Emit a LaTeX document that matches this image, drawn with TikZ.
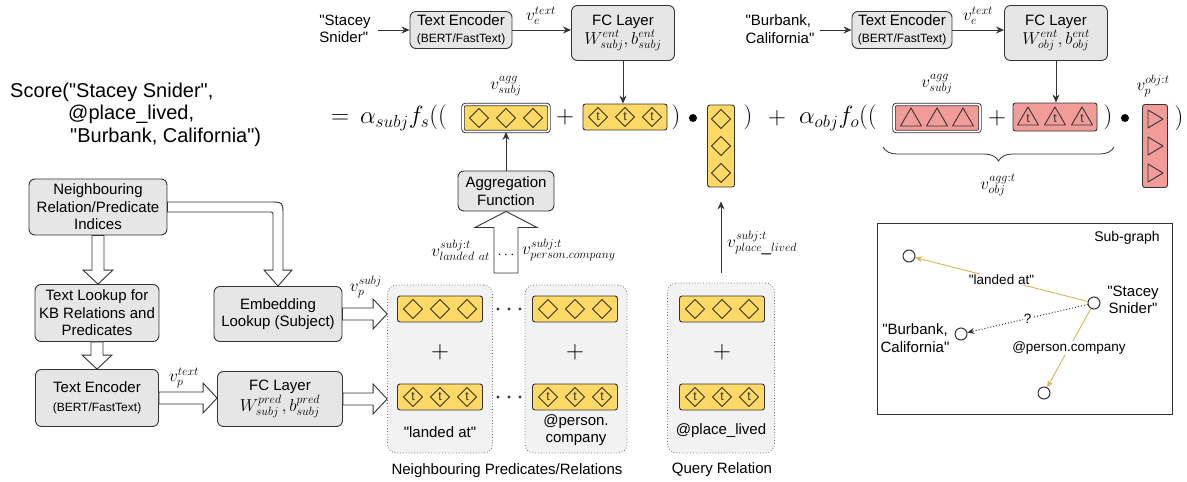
\documentclass[tikz,border=0pt]{standalone}
\usepackage{fontspec}
\setmainfont{Liberation Sans}
\usetikzlibrary{calc,arrows.meta,decorations.pathreplacing}

\definecolor{boxGray}{HTML}{E6E6E6}
\definecolor{groupGray}{HTML}{F2F2F2}
\definecolor{vecYellow}{HTML}{FFD966}
\definecolor{vecRed}{HTML}{F19C99}
\definecolor{lineDark}{HTML}{333333}
\definecolor{edgeGold}{HTML}{D6B656}
\newcommand{\dq}{\textquotedbl}

\begin{document}
\begin{tikzpicture}
[x=1pt, y=-1pt,
  boxDecorate/.style={draw=lineDark, fill=boxGray, rounded corners=6pt, line width=0.9pt,
    align=center, inner sep=0pt, font=\fontsize{15}{17.5}\selectfont},
  groupDecorate/.style={draw=lineDark!70, dotted, fill=groupGray, rounded corners=9pt,
    line width=0.8pt, inner sep=0pt},
  vecDecorate/.style={draw=lineDark, rounded corners=2.5pt, line width=0.9pt, inner sep=0pt,
    minimum width=85pt, minimum height=26pt},
  aggDecorate/.style={vecDecorate, double=white, double distance=1.6pt,
    minimum width=86pt, minimum height=27pt},
  glyphDecorate/.style={draw=lineDark, line width=0.9pt, line join=round},
  hollowDecorate/.style={draw=lineDark, fill=white, line width=0.9pt},
  arrowDecorate/.style={draw=lineDark, line width=0.9pt, -{Stealth[length=8pt, width=7pt]}},
  edgeDecorate/.style={draw=edgeGold, line width=0.9pt, -{Stealth[length=7pt, width=6pt]}},
  labelDecorate/.style={inner sep=1pt, font=\fontsize{17}{17}\selectfont},
  mathDecorate/.style={inner sep=0pt, font=\fontsize{24}{24}\selectfont},
  textDecorate/.style={inner sep=1pt, align=center, font=\fontsize{15}{17.5}\selectfont},
  edgeLabel/.style={fill=white, inner sep=1pt, font=\fontsize{13.5}{15}\selectfont},
  sgNode/.style={circle, draw=lineDark, line width=1pt, fill=white, minimum size=12pt, inner sep=0pt},
  glyphT/.style={inner sep=0pt, text=lineDark, font=\fontsize{12.5}{12.5}\selectfont},
  diam/.pic={\draw[glyphDecorate] (0,-9.5) -- (9.5,0) -- (0,9.5) -- (-9.5,0) -- cycle;},
  tdiam/.pic={\draw[glyphDecorate] (0,-9.5) -- (9.5,0) -- (0,9.5) -- (-9.5,0) -- cycle;
    \node[glyphT] at (0,0) {t};},
  tri/.pic={\draw[glyphDecorate] (-10.5,8) -- (10.5,8) -- (0,-10) -- cycle;},
  ttri/.pic={\draw[glyphDecorate] (-10.5,8) -- (10.5,8) -- (0,-10) -- cycle;
    \node[glyphT] at (0,2) {t};},
  rtri/.pic={\draw[glyphDecorate] (-7,-9) -- (8,0) -- (-7,9) -- cycle;}]
\useasboundingbox (0,0) rectangle (1187,482);

%% score text
\begin{scope}[every node/.style={inner sep=0pt, font=\fontsize{20}{23}\selectfont}]
\node[anchor=base west] (scoreA) at (10,97) {Score(\dq Stacey Snider\dq,};
\node[anchor=base west] (scoreB) at (68,119) {@place\_lived,};
\node[anchor=base west] (scoreC) at (70,142) {\dq Burbank, California\dq)};
\end{scope}

%% entity encoders (top row)
\node[textDecorate, align=left] (staceyIn) at (345,29) {\dq Stacey\\Snider\dq};
\node[boxDecorate, minimum width=102pt, minimum height=37pt] (txtS) at (461,30)
  {Text Encoder\\{\fontsize{12}{13}\selectfont(BERT/FastText)}};
\node[boxDecorate, minimum width=103pt, minimum height=55pt] (fcS) at (623,33)
  {FC Layer\\[1pt]{\fontsize{18}{18}\selectfont$W^{ent}_{subj}, b^{ent}_{subj}$}};
\node[textDecorate, align=left] (burbankIn) at (780,29) {\dq Burbank,\\California\dq};
\node[boxDecorate, minimum width=100pt, minimum height=37pt] (txtO) at (902,30)
  {Text Encoder\\{\fontsize{12}{13}\selectfont(BERT/FastText)}};
\node[boxDecorate, minimum width=103pt, minimum height=55pt] (fcO) at (1056,33)
  {FC Layer\\[1pt]{\fontsize{18}{18}\selectfont$W^{ent}_{obj}, b^{ent}_{obj}$}};

\draw[arrowDecorate, shorten <=6pt] (txtS.west -| staceyIn.east) -- (txtS.west);
\draw[arrowDecorate] (txtS.east) -- (txtS.east -| fcS.west);
\draw[arrowDecorate, shorten <=4pt] (txtO.west -| burbankIn.east) -- (txtO.west);
\draw[arrowDecorate] (txtO.east) -- (txtO.east -| fcO.west);
\node[labelDecorate] (textLabelS) at (541,16) {$v_e^{text}$};
\node[labelDecorate] (textLabelO) at (978,16) {$v_e^{text}$};

%% score formula
\node[mathDecorate, anchor=west] (eqSubj) at (331,118) {$=\,\alpha_{subj}f_s(($};
\node[aggDecorate, fill=vecYellow] (aggS) at (506,118) {};
\node[labelDecorate] (aggSLabel) at (506,86) {$v_{subj}^{agg}$};
\node[mathDecorate] (plusS) at (565,117) {$+$};
\node[vecDecorate, fill=vecYellow, minimum width=84pt] (entS) at (625,117) {};
\node[mathDecorate] (closeS) at (676,117) {$)$};
\node[circle, fill=black, inner sep=0pt, minimum size=8pt] (dotS) at (693,118) {};
\node[vecDecorate, fill=vecYellow, minimum width=27pt, minimum height=82pt] (qrel) at (721,146) {};
\node[mathDecorate] (closeQ) at (748,117) {$)$};
\node[mathDecorate] (plusQ) at (777,118) {$+$};
\node[mathDecorate, anchor=west] (eqObj) at (799,118) {$\alpha_{obj}f_o(($};
\node[aggDecorate, fill=vecRed] (aggO) at (937,118) {};
\node[labelDecorate] (aggOLabel) at (937,84) {$v_{subj}^{agg}$};
\node[mathDecorate] (plusO) at (997,118) {$+$};
\node[vecDecorate, fill=vecRed, minimum width=84pt, minimum height=28pt] (entO) at (1055,117) {};
\node[mathDecorate] (closeO) at (1108,117) {$)$};
\node[circle, fill=black, inner sep=0pt, minimum size=8pt] (dotO) at (1125,118) {};
\node[vecDecorate, fill=vecRed, minimum width=25pt, minimum height=83pt] (relO) at (1155,146) {};
\node[labelDecorate] (relOLabel) at (1153,86) {$v_p^{obj:t}$};
\node[mathDecorate] (closeR) at (1179,118) {$)$};
\draw[decorate, decoration={brace, mirror, amplitude=14pt}, draw=lineDark, line width=0.8pt]
  (883,147) -- (1114,147);
\node[labelDecorate] (braceLabel) at (998,185) {$v_{obj}^{agg:t}$};

%% glyphs inside the vectors
\foreach \dx in {-27,0,27}
{
  \pic at ([xshift=\dx pt]aggS.center) {diam};
  \pic at ([xshift=\dx pt]entS.center) {tdiam};
  \pic at ([yshift=\dx pt]qrel.center) {diam};
  \pic at ([xshift=\dx pt]entO.center) {ttri};
  \pic at ([yshift=\dx pt]relO.center) {rtri};
}
\foreach \dx in {-26,0,26}
  \pic at ([xshift=\dx pt]aggO.center) {tri};

\draw[arrowDecorate] (fcS.south) -- (fcS.south |- entS.north);
\draw[arrowDecorate] (fcO.south) -- (fcO.south |- entO.north);

%% predicate pipeline (left)
\node[boxDecorate, minimum width=138pt, minimum height=56pt] (nbr) at (98,207)
  {Neighbouring\\Relation/Predicate\\Indices};
\node[boxDecorate, minimum width=124pt, minimum height=57pt] (lookup) at (97,313)
  {Text Lookup for\\KB Relations and\\Predicates};
\node[boxDecorate, minimum width=123pt, minimum height=57pt] (txtP) at (97,398)
  {Text Encoder\\[2pt]{\fontsize{12}{13}\selectfont(BERT/FastText)}};
\node[boxDecorate, minimum width=128pt, minimum height=55pt] (emb) at (278,314)
  {Embedding\\Lookup (Subject)};
\node[boxDecorate, minimum width=125pt, minimum height=55pt] (fcP) at (280,399)
  {FC Layer\\[1pt]{\fontsize{18}{18}\selectfont$W^{pred}_{subj}, b^{pred}_{subj}$}};

%% neighbour and query groups
\node[groupDecorate, minimum width=105pt, minimum height=168pt] (grpA) at (440,369) {};
\node[groupDecorate, minimum width=102pt, minimum height=168pt] (grpB) at (576,369) {};
\node[groupDecorate, minimum width=107pt, minimum height=170pt] (grpC) at (721,368) {};
\foreach \vname/\cx in {gA/440, gB/575, gC/722}
{
  \node[vecDecorate, fill=vecYellow] (\vname Top) at (\cx,309) {};
  \node[vecDecorate, fill=vecYellow] (\vname Bot) at (\cx,397) {};
  \node[mathDecorate] (\vname Plus) at (\cx,352) {$+$};
  \foreach \dx in {-27,0,27}
  {
    \pic at ({\cx+\dx},309) {diam};
    \pic at ({\cx+\dx},397) {tdiam};
  }
}
\foreach \cy in {309,397}
  \foreach \cx in {498,509,520}
    \fill[lineDark] (\cx,\cy) circle (1.7pt);
\node[textDecorate] (gALabel) at (440,432) {\dq landed at\dq};
\node[textDecorate] (gBLabel) at (576,430) {@person.\\company};
\node[textDecorate] (gCLabel) at (721,431) {@place\_lived};
\node[textDecorate] (nbrCaption) at (507,471) {Neighbouring Predicates/Relations};
\node[textDecorate] (qryCaption) at (722,470) {Query Relation};

%% hollow arrows
\foreach \from/\to in {nbr/lookup, lookup/txtP}
  \draw[hollowDecorate] let \p1=(\from.south), \p2=(\to.north) in
    (\x1-6pt,\y1) -- (\x1-6pt,\y2+14pt) -- (\x1-15pt,\y2+14pt) -- (\x1,\y2)
    -- (\x1+15pt,\y2+14pt) -- (\x1+6pt,\y2+14pt) -- (\x1+6pt,\y1) -- cycle;
\foreach \from/\to in {txtP/fcP, emb/grpA, fcP/grpA}
  \draw[hollowDecorate] let \p1=(\from.east), \p2=(\to.west) in
    (\x1,\y1+6pt) -- (\x2-14pt,\y1+6pt) -- (\x2-14pt,\y1+15pt) -- (\x2,\y1)
    -- (\x2-14pt,\y1-15pt) -- (\x2-14pt,\y1-6pt) -- (\x1,\y1-6pt) -- cycle;
\draw[hollowDecorate] let \p1=(nbr.east), \p2=(emb.north) in
  (\x1,\y1+5pt) -- (\x2-9pt,\y1+5pt) .. controls (\x2+5pt,\y1+5pt) .. (\x2+5pt,\y1-9pt)
  -- (\x2+5pt,\y2+16pt) -- (\x2+14pt,\y2+16pt) -- (\x2,\y2) -- (\x2-14pt,\y2+16pt)
  -- (\x2-5pt,\y2+16pt) -- (\x2-5pt,\y1-9pt) .. controls (\x2-5pt,\y1-5pt) .. (\x2-9pt,\y1-5pt)
  -- (\x1,\y1-5pt) -- cycle;
\node[labelDecorate] (textLabelP) at (184,378) {$v_p^{text}$};
\node[labelDecorate] (subjLabelP) at (366,287) {$v_p^{subj}$};

%% aggregation
\node[boxDecorate, minimum width=96pt, minimum height=40pt] (aggFn) at (506,191)
  {Aggregation\\Function};
\draw[arrowDecorate] (aggFn) -- (aggS);
\coordinate (aggIn) at (506,273);
\draw[hollowDecorate] let \p1=(aggIn), \p2=(aggFn.south) in
  (\x1-12pt,\y1) -- (\x1-12pt,\y2-16pt) -- (\x1-31pt,\y2-16pt) -- (\x2,\y2)
  -- (\x1+31pt,\y2-16pt) -- (\x1+12pt,\y2-16pt) -- (\x1+12pt,\y1) -- cycle;
\node[textDecorate] (aggDots) at (506,255) {$\cdots$};
\node[labelDecorate, anchor=east] (landedLabel) at (491,250) {$v^{subj:t}_{landed\ at}$};
\node[labelDecorate, anchor=west] (companyLabel) at (521,250) {$v^{subj:t}_{person.company}$};
\draw[arrowDecorate] ([yshift=10pt]grpC.north) -- ([yshift=-14pt]qrel.south);
\node[labelDecorate, anchor=west] (livedLabel) at (726,243) {$v^{subj:t}_{place\_lived}$};

%% sub-graph
\node[draw=lineDark, line width=1pt, minimum width=295pt, minimum height=191pt] (subgraph) at (1024.5,318.5) {};
\node[textDecorate, font=\fontsize{14}{16}\selectfont] (sgTitle) at (1127,238) {Sub-graph};
\node[sgNode] (sgA) at (909,256) {};
\node[sgNode] (sgStacey) at (1094,303) {};
\node[sgNode] (sgBurbank) at (961,334) {};
\node[sgNode] (sgCompany) at (1044,393) {};
\node[textDecorate] (sgStaceyLabel) at (1133,300) {\dq Stacey\\Snider\dq};
\node[textDecorate] (sgBurbankLabel) at (915,338) {\dq Burbank,\\California\dq};
\draw[edgeDecorate] (sgStacey) -- node[edgeLabel] (lblLanded) {\dq landed at\dq} (sgA);
\draw[draw=lineDark, dotted, line width=1pt, -{Stealth[length=7pt, width=6pt]}]
  (sgStacey) -- node[edgeLabel] (lblQuery) {?} (sgBurbank);
\draw[edgeDecorate] (sgStacey) -- node[edgeLabel] (lblCompany) {@person.company} (sgCompany);
\end{tikzpicture}
\end{document}
